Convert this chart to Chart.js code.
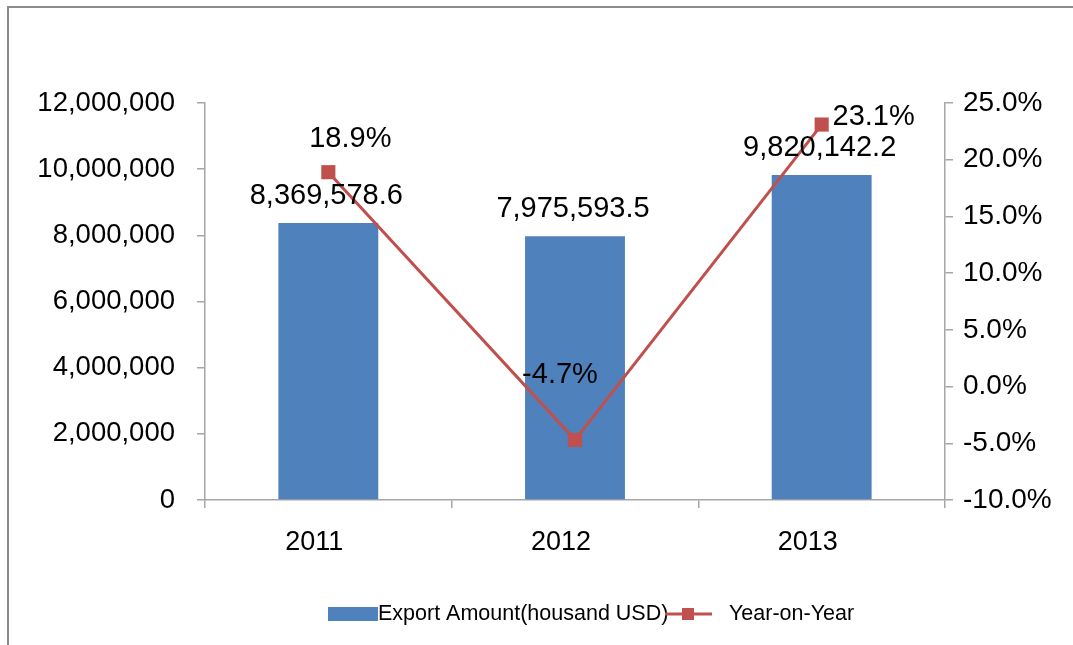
<!DOCTYPE html>
<html><head><meta charset="utf-8">
<script src="https://cdn.jsdelivr.net/npm/chart.js@4/dist/chart.umd.min.js"></script>
<style>html,body{margin:0;padding:0;background:#fff}#wrap{width:1073px;height:645px}</style>
</head><body><div id="wrap"><canvas id="c" width="1073" height="645"></canvas></div>
<script>
const categories = ['2011', '2012', '2013'];
const exportAmount = [8369578.6, 7975593.5, 9820142.2];
const exportLabels = ['8,369,578.6', '7,975,593.5', '9,820,142.2'];
const yoyGrowth = [18.9, -4.7, 23.1];
const yoyLabels = ['18.9%', '-4.7%', '23.1%'];
const seriesNames = ['Export Amount(housand USD)', 'Year-on-Year'];

const FONT = '"Liberation Sans", Arial, sans-serif';
const BLUE = '#4F81BD';
const RED = '#C0504D';
const AXIS = '#A6A6A6';

const framePlugin = {
  id: 'frame',
  beforeDraw(chart) {
    const ctx = chart.ctx;
    ctx.save();
    ctx.fillStyle = '#fff';
    ctx.fillRect(0, 0, chart.width, chart.height);
    ctx.strokeStyle = '#8c8c8c';
    ctx.lineWidth = 2;
    ctx.beginPath();
    ctx.moveTo(8, 645);
    ctx.lineTo(8, 7);
    ctx.lineTo(1073, 7);
    ctx.stroke();
    ctx.restore();
  }
};

const labelPlugin = {
  id: 'valueLabels',
  afterDatasetsDraw(chart) {
    const ctx = chart.ctx;
    ctx.save();
    ctx.fillStyle = '#000';
    ctx.textBaseline = 'middle';
    ctx.textAlign = 'center';
    ctx.font = '29px ' + FONT;
    const barMeta = chart.getDatasetMeta(0);
    barMeta.data.forEach((el, i) => {
      ctx.fillText(exportLabels[i], el.x - 2, el.y - 27);
    });
    const lineMeta = chart.getDatasetMeta(1);
    const offs = [[22, -33], [-15, -65], [52, -8]];
    lineMeta.data.forEach((el, i) => {
      ctx.fillText(yoyLabels[i], el.x + offs[i][0], el.y + offs[i][1]);
    });
    ctx.restore();
  }
};

const legendPlugin = {
  id: 'customLegend',
  afterDraw(chart) {
    const ctx = chart.ctx;
    const y = 614;
    ctx.save();
    ctx.fillStyle = BLUE;
    ctx.fillRect(328, 607, 50, 14);
    ctx.fillStyle = '#000';
    ctx.font = '21.5px ' + FONT;
    ctx.textBaseline = 'middle';
    ctx.textAlign = 'left';
    ctx.fillText(seriesNames[0], 378, y);
    ctx.strokeStyle = RED;
    ctx.lineWidth = 3;
    ctx.beginPath();
    ctx.moveTo(665, y);
    ctx.lineTo(712, y);
    ctx.stroke();
    ctx.fillStyle = RED;
    ctx.fillRect(682, y - 6, 12, 12);
    ctx.fillStyle = '#000';
    ctx.fillText(seriesNames[1], 729, y);
    ctx.restore();
  }
};

new Chart(document.getElementById('c'), {
  data: {
    labels: categories,
    datasets: [
      {
        type: 'bar',
        label: seriesNames[0],
        data: exportAmount,
        backgroundColor: BLUE,
        borderWidth: 0,
        barPercentage: 0.405,
        categoryPercentage: 1,
        yAxisID: 'y',
        order: 1
      },
      {
        type: 'line',
        label: seriesNames[1],
        data: yoyGrowth,
        borderColor: RED,
        backgroundColor: RED,
        borderWidth: 3,
        pointStyle: 'rect',
        pointRadius: 10,
        pointBorderWidth: 0,
        tension: 0,
        yAxisID: 'y1',
        order: 0
      }
    ]
  },
  options: {
    responsive: false,
    animation: false,
    devicePixelRatio: 1,
    layout: { padding: { top: 103, left: 0, right: 0, bottom: 0 } },
    plugins: { legend: { display: false }, tooltip: { enabled: false }, title: { display: false } },
    scales: {
      x: {
        offset: true,
        grid: { offset: true, drawOnChartArea: false, tickLength: 8, color: AXIS, lineWidth: 1.5 },
        border: { color: AXIS, width: 1.5 },
        ticks: { color: '#000', font: { size: 27, family: FONT }, padding: 18, labelOffset: -14 },
        afterFit(s) { s.height = 145; }
      },
      y: {
        position: 'left',
        min: 0, max: 12000000,
        grid: { drawOnChartArea: false, tickLength: 8, color: AXIS, lineWidth: 1.5 },
        border: { color: AXIS, width: 1.5 },
        ticks: {
          stepSize: 2000000, color: '#000', padding: 22,
          font: { size: 27.5, family: FONT },
          callback: v => v.toLocaleString('en-US')
        },
        afterFit(s) { s.width = 205; }
      },
      y1: {
        position: 'right',
        min: -10, max: 25,
        grid: { drawOnChartArea: false, tickLength: 8, color: AXIS, lineWidth: 1.5 },
        border: { color: AXIS, width: 1.5 },
        ticks: {
          stepSize: 5, color: '#000', padding: 10,
          font: { size: 28, family: FONT },
          callback: v => v.toFixed(1) + '%'
        },
        afterFit(s) { s.width = 128; }
      }
    }
  },
  plugins: [framePlugin, labelPlugin, legendPlugin]
});
</script>
</body></html>
